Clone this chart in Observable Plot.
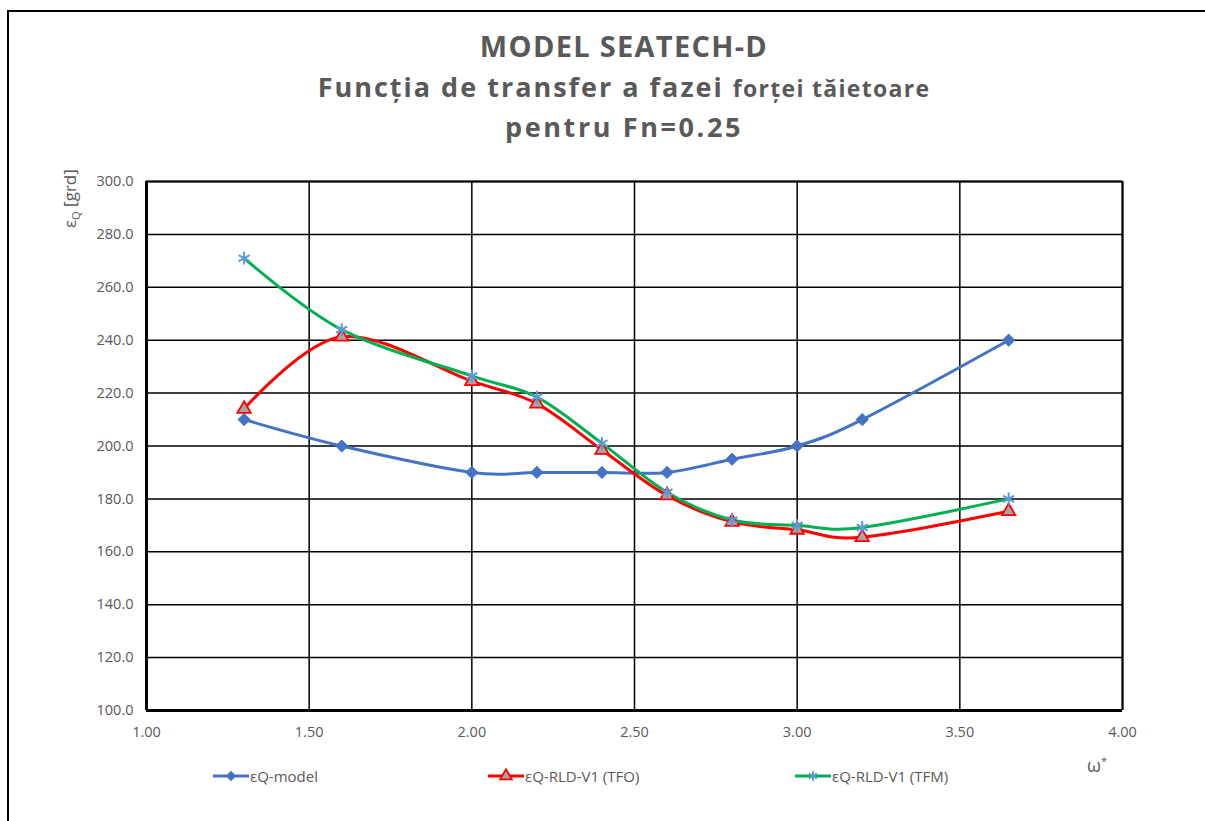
<!DOCTYPE html>
<html>
<head>
<meta charset="utf-8">
<script src="https://cdn.jsdelivr.net/npm/d3@7"></script>
<script src="https://cdn.jsdelivr.net/npm/@observablehq/plot@0.6"></script>
<style>
  body { margin: 0; background: #fff; }
  #wrap { position: relative; width: 1205px; height: 821px; overflow: hidden; font-family: "Open Sans", "Noto Sans", sans-serif; color: #595959; }
  .frame { position: absolute; left: 7px; top: 10px; width: 1300px; height: 900px; border-left: 2px solid #000; border-top: 2px solid #000; }
  .t { position: absolute; left: 0; width: 1248px; text-align: center; font-weight: bold; white-space: nowrap; }
  #plot { position: absolute; left: 0; top: 0; }
  .leg { position: absolute; top: 764px; font-size: 15px; display: flex; align-items: center; white-space: nowrap; }
  .leg svg { margin-right: 1px; }
</style>
</head>
<body>
<div id="wrap">
  <div class="frame"></div>
  <div class="t" style="top:26px;font-size:29px;letter-spacing:1.3px;">MODEL SEATECH-D</div>
  <div class="t" style="top:68px;font-size:27px;letter-spacing:2px;">Funcția de transfer a fazei <span style="font-size:23px;letter-spacing:1.3px;">forței tăietoare</span></div>
  <div class="t" style="top:108px;font-size:27px;letter-spacing:2.6px;">pentru Fn=0.25</div>
  <div id="plot"></div>
  <div style="position:absolute;left:58px;top:228px;transform-origin:0 0;transform:rotate(-90deg);font-size:17px;white-space:nowrap;">ε<sub style="font-size:11px;">Q</sub> [grd]</div>
  <div style="position:absolute;left:1087px;top:753px;font-size:18px;">ω<sup style="font-size:11px;">*</sup></div>
  <div id="legend"></div>
</div>
<script>
const omega = [1.30, 1.60, 2.00, 2.20, 2.40, 2.60, 2.80, 3.00, 3.20, 3.65];
const epsModel = [210, 200, 190, 190, 190, 190, 195, 200, 210, 240];
const epsTFO   = [214, 241.3, 224.5, 216, 198.5, 181.3, 171.3, 168.3, 165.5, 175.3];
const epsTFM   = [271, 244, 226.5, 218.5, 201, 182.5, 172, 170, 169.2, 180];
const seriesNames = ["εQ-model", "εQ-RLD-V1 (TFO)", "εQ-RLD-V1 (TFM)"];
const xTicks = [1.00, 1.50, 2.00, 2.50, 3.00, 3.50, 4.00];
const yTicks = [100, 120, 140, 160, 180, 200, 220, 240, 260, 280, 300];

const blue = "#4472C4", red = "#FF0000", green = "#00B050", starC = "#5B9BD5";

const mk = (ys) => omega.map((x, i) => ({x, y: ys[i]}));
const dModel = mk(epsModel), dTFO = mk(epsTFO), dTFM = mk(epsTFM);

const chart = Plot.plot({
  width: 1205,
  height: 821,
  marginLeft: 146,
  marginRight: 83,
  marginTop: 181,
  marginBottom: 111,
  style: { fontFamily: "'Open Sans', 'Noto Sans', sans-serif", background: "transparent" },
  x: { domain: [1, 4], ticks: xTicks },
  y: { domain: [100, 300], ticks: yTicks },
  marks: [
    Plot.gridX(xTicks, { stroke: "#000", strokeOpacity: 1, strokeWidth: 1.5 }),
    Plot.gridY(yTicks, { stroke: "#000", strokeOpacity: 1, strokeWidth: 1.5 }),
    Plot.ruleX([4], { stroke: "#000", strokeWidth: 2 }),
    Plot.ruleY([300], { stroke: "#000", strokeWidth: 2 }),
    Plot.ruleX([1], { stroke: "#000", strokeWidth: 3 }),
    Plot.ruleY([100], { stroke: "#000", strokeWidth: 3 }),
    Plot.axisX(xTicks, { tickSize: 0, tickPadding: 16, fontSize: 14.5, fill: "#595959", tickFormat: d3.format(".2f"), label: null }),
    Plot.axisY(yTicks, { tickSize: 0, tickPadding: 13, fontSize: 14.5, fill: "#595959", tickFormat: d3.format(".1f"), label: null }),
    Plot.line(dModel, { x: "x", y: "y", stroke: blue, strokeWidth: 3, curve: "cardinal" }),
    Plot.line(dTFO, { x: "x", y: "y", stroke: red, strokeWidth: 3, curve: "cardinal" }),
    Plot.line(dTFM, { x: "x", y: "y", stroke: green, strokeWidth: 3, curve: "cardinal" }),
    Plot.dot(dModel, { x: "x", y: "y", symbol: "diamond2", r: 5.5, fill: blue, stroke: blue, strokeWidth: 1 }),
    Plot.dot(dTFO, { x: "x", y: "y", symbol: "triangle", r: 5, fill: "#A5A5A5", stroke: red, strokeWidth: 1.8 }),
    Plot.dot(dTFM, { x: "x", y: "y", symbol: "asterisk", r: 6, stroke: starC, strokeWidth: 2 })
  ]
});
document.getElementById("plot").appendChild(chart);

// Legend
const legendItems = [
  { name: seriesNames[0], color: blue, left: 213, sym: "diamond" },
  { name: seriesNames[1], color: red, left: 488, sym: "triangle" },
  { name: seriesNames[2], color: green, left: 795, sym: "asterisk" }
];
const legend = document.getElementById("legend");
for (const it of legendItems) {
  const div = document.createElement("div");
  div.className = "leg";
  div.style.left = it.left + "px";
  const s = d3.create("svg").attr("width", 36).attr("height", 24);
  s.append("line").attr("x1", 0).attr("x2", 36).attr("y1", 12).attr("y2", 12).attr("stroke", it.color).attr("stroke-width", 3);
  const sym = { diamond: d3.symbolDiamond2, triangle: d3.symbolTriangle, asterisk: d3.symbolAsterisk }[it.sym];
  const p = s.append("path").attr("transform", "translate(18,12)").attr("d", d3.symbol(sym, it.sym === "diamond" ? 70 : 60)());
  if (it.sym === "diamond") p.attr("fill", blue);
  else if (it.sym === "triangle") p.attr("fill", "#A5A5A5").attr("stroke", red).attr("stroke-width", 1.8);
  else p.attr("fill", "none").attr("stroke", starC).attr("stroke-width", 2);
  div.appendChild(s.node());
  const sp = document.createElement("span");
  sp.textContent = it.name;
  div.appendChild(sp);
  legend.appendChild(div);
}
</script>
</body>
</html>
